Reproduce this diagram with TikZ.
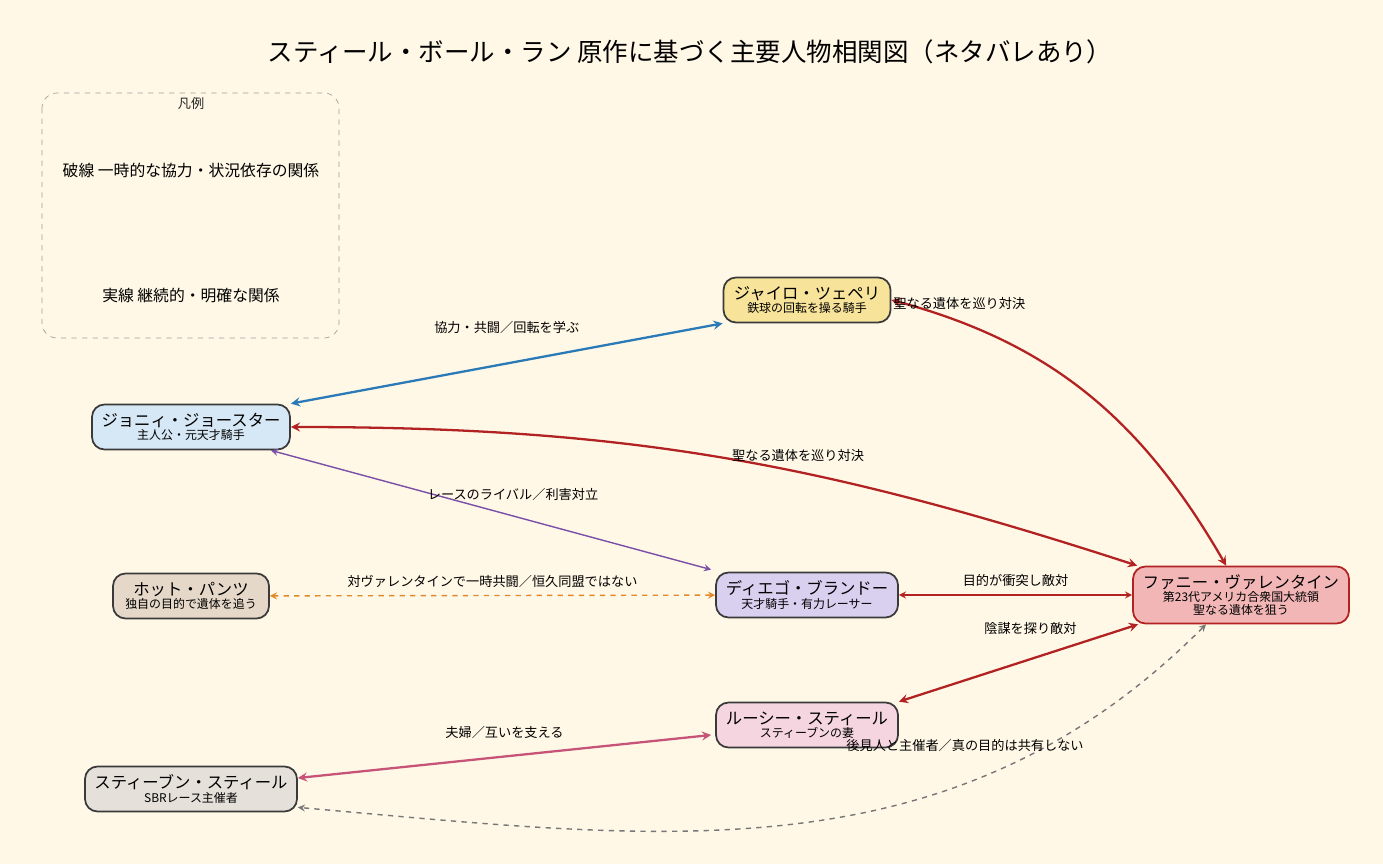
\documentclass[tikz,border=0pt]{standalone}
\usepackage{fontspec}
\setmainfont{Noto Sans CJK JP}
\usetikzlibrary{shapes.geometric, arrows, calc, positioning}
\definecolor{bgcol}{HTML}{FFF8E7}
\definecolor{edgecol}{HTML}{3A3A3A}
\definecolor{redcol}{HTML}{B22222}
\definecolor{bluecol}{HTML}{2A7AB8}
\definecolor{purplecol}{HTML}{7B4FA8}
\definecolor{orangecol}{HTML}{E0882A}
\definecolor{pinkcol}{HTML}{C75478}
\definecolor{greycol}{HTML}{777777}
\tikzstyle{person} = [rectangle, rounded corners=2.5mm, line width=1pt, draw=edgecol, align=center, inner sep=2pt, font=\fontsize{9.3}{9.5}\selectfont]
\tikzstyle{arrow} = [thick,<->,>=stealth]
\tikzstyle{lbl} = [font=\fontsize{7.5}{8}\selectfont, text=black!85]
\newcommand{\sub}[1]{\\[-2pt]{\fontsize{6.8}{7}\selectfont #1}}
\begin{document}
\begin{tikzpicture}[x=0.02cm, y=-0.02cm]
		\fill[bgcol] (0,0) rectangle (1383,864);
		\useasboundingbox (0,0) rectangle (1383,864);
		\node (Title) at (690,52) {\fontsize{14.5}{15}\selectfont スティール・ボール・ラン 原作に基づく主要人物相関図（ネタバレあり）};

		\draw[greycol!70, dashed, rounded corners=3mm] (42,93) rectangle (339,338);
		\node[lbl] (Legend) at (191,104) {凡例};
		\node[font=\fontsize{9}{9}\selectfont] (LegendDash) at (191,170) {破線 一時的な協力・状況依存の関係};
		\node[font=\fontsize{9}{9}\selectfont] (LegendSolid) at (191,296) {実線 継続的・明確な関係};

		\node (Gyro) [person, fill={rgb,255:red,247;green,227;blue,154}, minimum width=167*0.02cm, minimum height=45*0.02cm] at (807,300) {ジャイロ・ツェペリ\sub{鉄球の回転を操る騎手}};
		\node (Johnny) [person, fill={rgb,255:red,214;green,232;blue,245}, minimum width=198*0.02cm, minimum height=45*0.02cm] at (191,427) {ジョニィ・ジョースター\sub{主人公・元天才騎手}};
		\node (HotPants) [person, fill={rgb,255:red,229;green,216;blue,200}, minimum width=156*0.02cm, minimum height=45*0.02cm] at (191,596) {ホット・パンツ\sub{独自の目的で遺体を追う}};
		\node (Diego) [person, fill={rgb,255:red,217;green,208;blue,240}, minimum width=182*0.02cm, minimum height=45*0.02cm] at (807,595) {ディエゴ・ブランドー\sub{天才騎手・有力レーサー}};
		\node (Valentine) [person, draw=redcol, fill={rgb,255:red,242;green,182;blue,182}, minimum width=216*0.02cm, minimum height=57*0.02cm] at (1241,595) {ファニー・ヴァレンタイン\sub{第23代アメリカ合衆国大統領}\sub{聖なる遺体を狙う}};
		\node (Lucy) [person, fill={rgb,255:red,245;green,213;blue,224}, minimum width=182*0.02cm, minimum height=45*0.02cm] at (807,725) {ルーシー・スティール\sub{スティーブンの妻}};
		\node (Steven) [person, fill={rgb,255:red,229;green,224;blue,218}, minimum width=212*0.02cm, minimum height=45*0.02cm] at (191,789) {スティーブン・スティール\sub{SBRレース主催者}};

		\draw [arrow, bluecol, line width=1.3pt] (Johnny.north east) -- node[lbl, above=13pt, pos=0.5, text=black]{協力・共闘／回転を学ぶ} (Gyro.south west);
		\draw [arrow, redcol, line width=1.3pt] (Gyro.east) to[out=-15, in=120] node[lbl, pos=0.15, above=3pt, text=black]{聖なる遺体を巡り対決} ($(Valentine.north west)+(94,0)$);
		\draw [arrow, redcol, line width=1.3pt] (Johnny.east) to[out=0, in=162] node[lbl, above=2pt, pos=0.6, text=black]{聖なる遺体を巡り対決} ($(Valentine.north west)+(5,0)$);
		\draw [arrow, purplecol, line width=0.8pt] ($(Johnny.south east)+(-20,0)$) -- node[lbl, above=5pt, pos=0.55, text=black]{レースのライバル／利害対立} ($(Diego.north west)+(-4,-2)$);
		\draw [arrow, orangecol, thick, dashed] (Diego) -- node[lbl, above=1pt, text=black]{対ヴァレンタインで一時共闘／恒久同盟ではない} (HotPants);
		\draw [arrow, redcol, line width=0.8pt] (Diego) -- node[lbl, above=1pt, text=black]{目的が衝突し敵対} (Valentine);
		\draw [arrow, redcol, line width=1.3pt] (Lucy.north east) -- node[lbl, above=10pt, pos=0.55, text=black]{陰謀を探り敵対} ($(Valentine.south west)+(6,0)$);
		\draw [arrow, pinkcol, line width=1.3pt] ($(Lucy.west)+(-4,10)$) -- node[lbl, above=6pt, pos=0.5, text=black]{夫婦／互いを支える} ($(Steven.east)+(0,-11)$);
		\draw [arrow, greycol, thick, dashed] ($(Valentine.south)+(-35,0)$) to[out=-135, in=-5] node[lbl, pos=0.3, above=14pt, text=black]{後見人と主催者／真の目的は共有しない} ($(Steven.south east)+(0,-5)$);
	\end{tikzpicture}
\end{document}
